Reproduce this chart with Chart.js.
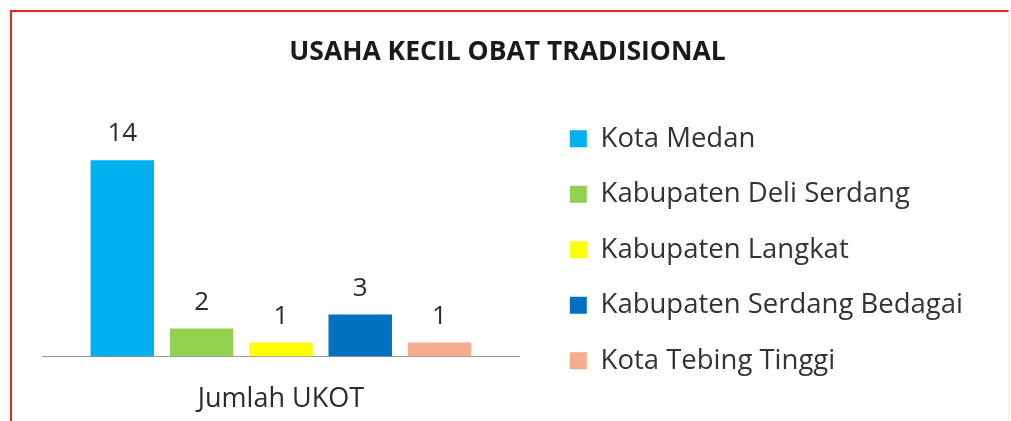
<!DOCTYPE html>
<html>
<head>
<meta charset="utf-8">
<script src="https://cdn.jsdelivr.net/npm/chart.js@4"></script>
<style>
  html, body { margin: 0; padding: 0; background: #fff; }
  #frame {
    position: absolute; left: 10px; top: 10px; width: 996px; height: 420px;
    border-left: 2px solid #e8231f; border-top: 2px solid #e8231f;
    border-right: 1px solid #fde9e4;
  }
  #wrap { position: absolute; left: 0; top: 0; width: 1011px; height: 421px; }
</style>
</head>
<body>
<div id="frame"></div>
<div id="wrap"><canvas id="chart" width="1011" height="421"></canvas></div>
<script>
const chartTitle = 'USAHA KECIL OBAT TRADISIONAL';
const categories = ['Jumlah UKOT'];
const seriesNames = ['Kota Medan', 'Kabupaten Deli Serdang', 'Kabupaten Langkat', 'Kabupaten Serdang Bedagai', 'Kota Tebing Tinggi'];
const seriesValues = [14, 2, 1, 3, 1];
const seriesColors = ['#00b0f0', '#92d050', '#ffff00', '#0070c0', '#f4ae8e'];

const fontFamily = '"Open Sans", "Noto Sans", sans-serif';

// draws the value above each bar
const valueLabels = {
    id: 'valueLabels',
    afterDatasetsDraw(chart) {
        const ctx = chart.ctx;
        ctx.save();
        ctx.font = '26px ' + fontFamily;
        ctx.fillStyle = '#2b2b2b';
        ctx.textAlign = 'center';
        ctx.textBaseline = 'alphabetic';
        chart.data.datasets.forEach((ds, i) => {
            chart.getDatasetMeta(i).data.forEach((bar, j) => {
                ctx.fillText(ds.data[j], bar.x, bar.y - 19);
            });
        });
        ctx.restore();
    }
};

// leaves some empty room between the plot and the legend
const plotGap = {
    id: 'plotGap',
    afterLayout(chart) {
        const x = chart.scales.x;
        x.right -= 22;
        x.width -= 22;
        x.configure();
    }
};

const datasets = seriesNames.map((name, i) => ({
    label: name,
    data: [seriesValues[i]],
    backgroundColor: seriesColors[i],
    barPercentage: 0.8,
    categoryPercentage: 0.83
}));

const ctx = document.getElementById('chart').getContext('2d');
new Chart(ctx, {
    type: 'bar',
    data: { labels: categories, datasets: datasets },
    options: {
        responsive: false,
        animation: false,
        layout: { padding: { left: 42, top: 12, right: 38, bottom: 3 } },
        plugins: {
            title: {
                display: true,
                text: chartTitle,
                color: '#1a1a1a',
                font: { family: fontFamily, size: 26.5, weight: 'bold' },
                padding: { top: 25, bottom: 27 }
            },
            legend: {
                position: 'right',
                align: 'start',
                title: {
                    display: true,
                    text: ' ',
                    font: { size: 10 },
                    padding: { top: 73, bottom: 0 }
                },
                labels: {
                    boxWidth: 17,
                    boxHeight: 17,
                    padding: 28,
                    color: '#333',
                    font: { family: fontFamily, size: 27.5 }
                }
            },
            tooltip: { enabled: false }
        },
        scales: {
            x: {
                grid: { display: false, tickLength: 25 },
                border: { display: true, color: '#999', width: 1 },
                ticks: { color: '#2b2b2b', padding: 2, font: { family: fontFamily, size: 27 } }
            },
            y: {
                display: false,
                min: 0,
                max: 18.6
            }
        }
    },
    plugins: [valueLabels, plotGap]
});
</script>
</body>
</html>
